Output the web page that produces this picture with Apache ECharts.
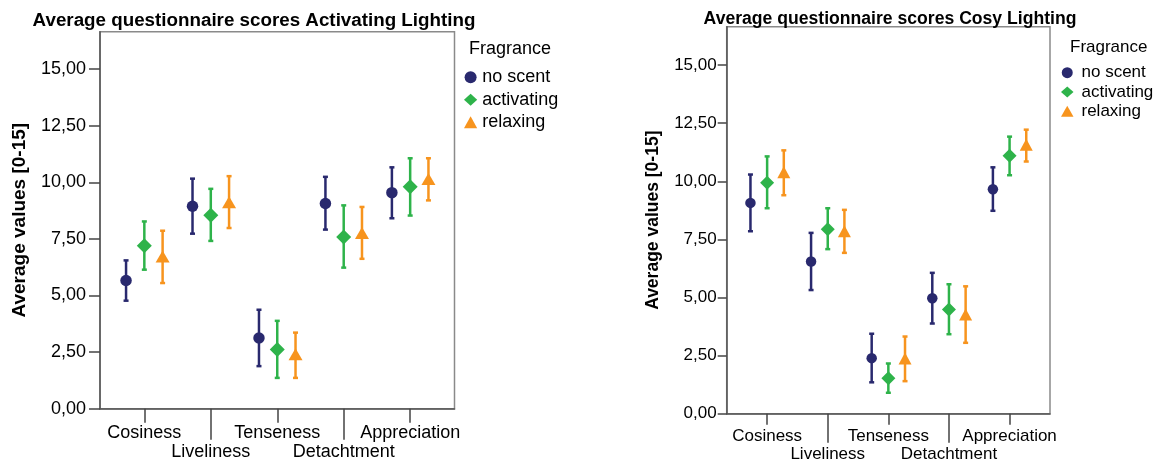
<!DOCTYPE html>
<html>
<head>
<meta charset="utf-8">
<title>Average questionnaire scores</title>
<script src="https://cdn.jsdelivr.net/npm/echarts@6/dist/echarts.min.js"></script>
<style>
  html, body { margin: 0; padding: 0; background: #fff; }
  #chart { width: 1155px; height: 461px; }
</style>
</head>
<body>
<div id="chart"></div>
<script>
// categories and legend
const categories = ['Cosiness', 'Liveliness', 'Tenseness', 'Detachtment', 'Appreciation'];
const fragrances = ['no scent', 'activating', 'relaxing'];
const yTicks = [0, 2.5, 5, 7.5, 10, 12.5, 15];

// Activating lighting: means and error bar ends
const actNoScentMean = [5.66, 8.94, 3.12, 9.06, 9.54];
const actNoScentLow = [4.77, 7.73, 1.88, 7.91, 8.41];
const actNoScentHigh = [6.55, 10.16, 4.37, 10.24, 10.66];
const actActivatingMean = [7.20, 8.54, 2.61, 7.58, 9.80];
const actActivatingLow = [6.14, 7.41, 1.36, 6.23, 8.53];
const actActivatingHigh = [8.27, 9.71, 3.88, 8.98, 11.06];
const actRelaxingMean = [6.72, 9.12, 2.41, 7.76, 10.15];
const actRelaxingLow = [5.55, 7.98, 1.36, 6.62, 9.20];
const actRelaxingHigh = [7.86, 10.27, 3.36, 8.91, 11.06];

// Cosy lighting
const cosyNoScentMean = [9.07, 6.55, 2.39, 4.97, 9.66];
const cosyNoScentLow = [7.85, 5.32, 1.35, 3.88, 8.73];
const cosyNoScentHigh = [10.29, 7.78, 3.44, 6.06, 10.60];
const cosyActivatingMean = [9.94, 7.94, 1.53, 4.48, 11.10];
const cosyActivatingLow = [8.84, 7.08, 0.90, 3.42, 10.26];
const cosyActivatingHigh = [11.07, 8.84, 2.16, 5.57, 11.92];
const cosyRelaxingMean = [10.39, 7.85, 2.38, 4.27, 11.57];
const cosyRelaxingLow = [9.40, 6.92, 1.40, 3.05, 10.85];
const cosyRelaxingHigh = [11.33, 8.77, 3.32, 5.48, 12.22];

const FONT = "'Liberation Sans', Arial, sans-serif";
const COLORS = ['#29296e', '#2eb34a', '#f7941e'];
const SYMBOLS = ['circle', 'diamond', 'triangle'];
const OFFSETS = [-0.275, 0, 0.275];

const panels = [
  {
    title: 'Average questionnaire scores Activating Lighting',
    means: [actNoScentMean, actActivatingMean, actRelaxingMean],
    lows: [actNoScentLow, actActivatingLow, actRelaxingLow],
    highs: [actNoScentHigh, actActivatingHigh, actRelaxingHigh],
    grid: { left: 100, top: 31.7, width: 354.5, height: 377 },
    font: 18, titleFont: 18.8, titleX: 254, titleY: 20.5, nameFont: 19,
    tickLen: 11, labelMargin: 14, nameGap: 71,
    xShort: 14, xLong: 31, xMargin: 14.5, xLine: 19.5,
    sizes: [11.5, 15, [14, 12]],
    legendLeft: 464, legendTop: 66, legendGap: 22.5, legendW: 13.2, legendH: 12, legendPad: 0,
    fragX: 469, fragY: 49
  },
  {
    title: 'Average questionnaire scores Cosy Lighting',
    means: [cosyNoScentMean, cosyActivatingMean, cosyRelaxingMean],
    lows: [cosyNoScentLow, cosyActivatingLow, cosyRelaxingLow],
    highs: [cosyNoScentHigh, cosyActivatingHigh, cosyRelaxingHigh],
    grid: { left: 726.7, top: 26.7, width: 323.3, height: 387 },
    font: 17, titleFont: 17.6, titleX: 890, titleY: 19, nameFont: 17.5,
    tickLen: 9, labelMargin: 10, nameGap: 65,
    xShort: 11, xLong: 29, xMargin: 14, xLine: 17.5,
    sizes: [10.5, 14, [13, 12]],
    legendLeft: 1061, legendTop: 63, legendGap: 19.3, legendW: 12.5, legendH: 11, legendPad: 3,
    fragX: 1070, fragY: 47.8
  }
];

const grids = [];
const xAxes = [];
const yAxes = [];
const scatterSeries = [];
const errorSeries = [];
const legends = [];
const texts = [];

panels.forEach((p, pi) => {
  grids.push(Object.assign({
    show: true, borderColor: '#8a8a8a', borderWidth: 1.5,
    outerBoundsMode: 'none', containLabel: false
  }, p.grid));

  // main category axis (value axis with category positions 0..4), first label row
  xAxes.push({
    gridIndex: pi, type: 'value', min: -0.667, max: 4.667,
    splitLine: { show: false },
    axisLine: { show: true, onZero: false, lineStyle: { color: '#555', width: 1.5 } },
    axisTick: { show: true, length: p.xShort, customValues: [0, 2, 4], lineStyle: { color: '#444', width: 1.5 } },
    axisLabel: {
      customValues: [0, 2, 4],
      showMinLabel: true, showMaxLabel: true, hideOverlap: false,
      formatter: v => categories[v],
      fontFamily: FONT, fontSize: p.font, color: '#000',
      lineHeight: p.xLine, margin: p.xMargin
    }
  });

  yAxes.push({
    gridIndex: pi, type: 'value', min: 0, max: 16.65,
    splitLine: { show: false },
    axisLine: { show: true, onZero: false, lineStyle: { color: '#555', width: 1.5 } },
    axisTick: { show: true, length: p.tickLen, customValues: yTicks, lineStyle: { color: '#444', width: 1.5 } },
    axisLabel: {
      customValues: yTicks,
      showMinLabel: true, showMaxLabel: true,
      formatter: v => v.toFixed(2).replace('.', ','),
      fontFamily: FONT, fontSize: p.font, color: '#000', margin: p.labelMargin
    },
    name: 'Average values [0-15]',
    nameLocation: 'middle', nameRotate: 90, nameGap: p.nameGap,
    nameTextStyle: { fontFamily: FONT, fontSize: p.nameFont, fontWeight: 'bold', color: '#000' }
  });

  fragrances.forEach((f, k) => {
    scatterSeries.push({
      type: 'scatter', name: f,
      xAxisIndex: pi, yAxisIndex: pi,
      symbol: SYMBOLS[k], symbolSize: p.sizes[k],
      itemStyle: { color: COLORS[k], opacity: 1 },
      z: 4,
      data: p.means[k].map((v, i) => [i + OFFSETS[k], v])
    });
    errorSeries.push({
      type: 'custom', name: f + ' 95% CI',
      xAxisIndex: pi, yAxisIndex: pi,
      z: 3,
      data: p.lows[k].map((lo, i) => [i + OFFSETS[k], lo, p.highs[k][i]]),
      renderItem: (params, api) => {
        const x = api.value(0);
        const lo = api.coord([x, api.value(1)]);
        const hi = api.coord([x, api.value(2)]);
        const st = { stroke: COLORS[k], lineWidth: 2.5 };
        return {
          type: 'group',
          children: [
            { type: 'line', shape: { x1: lo[0], y1: lo[1], x2: hi[0], y2: hi[1] }, style: st },
            { type: 'line', shape: { x1: lo[0] - 2.5, y1: lo[1], x2: lo[0] + 2.5, y2: lo[1] }, style: st },
            { type: 'line', shape: { x1: hi[0] - 2.5, y1: hi[1], x2: hi[0] + 2.5, y2: hi[1] }, style: st }
          ]
        };
      }
    });
  });

  legends.push({
    orient: 'vertical', left: p.legendLeft, top: p.legendTop,
    padding: 0, itemGap: 0, itemWidth: p.legendW, itemHeight: p.legendH,
    symbolKeepAspect: true,
    selectedMode: false, data: fragrances,
    textStyle: { fontFamily: FONT, fontSize: p.font, color: '#000', lineHeight: p.legendGap, padding: [0, 0, 0, p.legendPad] }
  });

  texts.push({
    type: 'text', x: p.titleX, y: p.titleY,
    style: { text: p.title, fontFamily: FONT, fontSize: p.titleFont, fontWeight: 'bold', fill: '#000', textAlign: 'center', textVerticalAlign: 'middle' }
  });
  texts.push({
    type: 'text', x: p.fragX, y: p.fragY,
    style: { text: 'Fragrance', fontFamily: FONT, fontSize: p.font, fill: '#000', textAlign: 'left', textVerticalAlign: 'middle' }
  });
});

// extra axes: longer ticks and the second label row (Liveliness, Detachtment)
panels.forEach((p, pi) => {
  xAxes.push({
    gridIndex: pi, type: 'value', min: -0.667, max: 4.667, position: 'bottom', offset: 0,
    splitLine: { show: false },
    axisLine: { show: false, onZero: false },
    axisTick: { show: true, length: p.xLong, customValues: [1, 3], lineStyle: { color: '#444', width: 1.5 } },
    axisLabel: {
      customValues: [1, 3],
      showMinLabel: true, showMaxLabel: true, hideOverlap: false,
      formatter: v => categories[v],
      fontFamily: FONT, fontSize: p.font, color: '#000',
      lineHeight: p.xLine, margin: p.xMargin + p.xLine
    }
  });
});

const chart = echarts.init(document.getElementById('chart'));
chart.setOption({
  animation: false,
  backgroundColor: '#fff',
  grid: grids,
  xAxis: xAxes,
  yAxis: yAxes,
  legend: legends,
  graphic: texts,
  series: scatterSeries.concat(errorSeries)
});

window.addEventListener('resize', () => chart.resize());
</script>
</body>
</html>
